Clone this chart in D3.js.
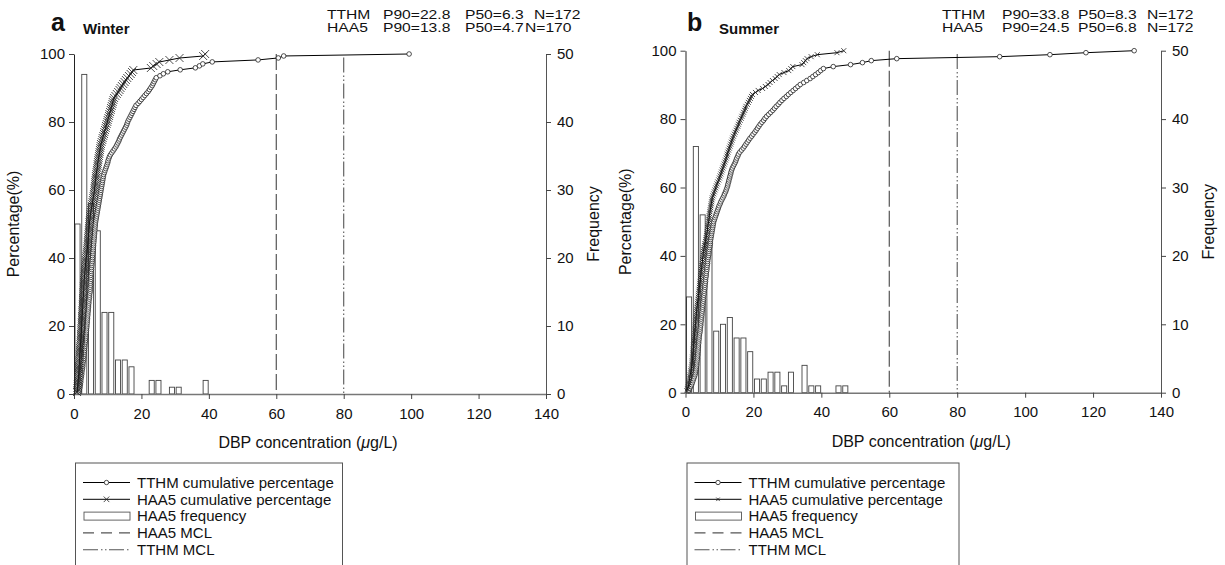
<!DOCTYPE html>
<html>
<head>
<meta charset="utf-8">
<script src="https://cdn.jsdelivr.net/npm/d3@7"></script>
<style>
body { margin: 0; background: #fff; }
text { font-family: "Liberation Sans", Arial, Helvetica, sans-serif; fill: #111; }
</style>
</head>
<body>
<script>
// sorted sample concentrations (ug/L)
var tthmWinter = [1.5,1.6,1.7,1.8,1.9,2.0,2.0,2.1,2.2,2.3,2.3,2.4,2.5,2.6,2.6,2.7,2.8,
  2.9,2.9,3.0,3.0,3.1,3.1,3.2,3.2,3.3,3.4,3.4,3.5,3.5,3.6,3.7,3.7,3.8,
  3.8,3.9,3.9,4.0,4.0,4.1,4.1,4.2,4.2,4.3,4.3,4.4,4.4,4.5,4.6,4.6,4.7,4.8,
  4.8,4.8,4.9,4.9,4.9,5.0,5.0,5.0,5.1,5.1,5.2,5.2,5.3,5.3,5.4,5.4,5.5,
  5.5,5.6,5.6,5.7,5.7,5.8,5.8,5.9,5.9,6.0,6.0,6.1,6.1,6.2,6.2,6.3,6.3,
  6.4,6.5,6.6,6.7,6.8,6.9,7.0,7.1,7.2,7.3,7.4,7.5,7.6,7.7,7.8,7.9,8.0,
  8.1,8.2,8.3,8.4,8.5,8.6,8.7,8.8,9.0,
  9.2,9.4,9.6,9.8,10.0,10.1,10.3,10.5,
  10.8,11.2,11.6,12.0,12.4,12.7,13.0,13.3,13.5,
  13.8,14.1,14.4,14.7,15.0,15.3,15.6,15.8,16.0,
  16.3,16.6,16.9,17.2,17.5,17.8,18.1,18.4,
  19.0,19.5,20.0,20.5,21.0,21.5,22.0,22.4,22.8,
  23.2,23.5,23.8,24.1,24.4,25.5,26.5,27.8,
  31.5,36.0,37.2,38.2,41.0,54.6,60.6,62.2,99.4];

var haa5Winter = [0.9,1.0,1.0,1.1,1.1,1.2,1.2,1.3,1.3,1.4,1.4,1.5,1.5,1.5,1.6,1.6,1.6,1.7,1.7,1.7,1.8,1.8,1.8,1.9,1.9,
  2.0,2.0,2.1,2.1,2.1,2.2,2.2,2.2,2.3,2.3,2.3,2.4,2.4,2.4,2.5,2.5,2.5,2.6,2.6,2.6,2.7,2.7,2.7,2.8,2.8,2.8,
  2.9,2.9,2.9,3.0,3.0,3.0,3.1,3.1,3.2,3.2,3.3,3.3,3.4,3.4,3.5,3.5,3.6,3.7,3.8,3.9,3.9,
  4.0,4.0,4.1,4.1,4.2,4.2,4.3,4.3,4.4,4.4,4.5,4.5,4.6,4.6,4.7,4.8,4.8,4.9,5.0,5.1,5.2,5.3,5.4,5.5,5.6,5.7,5.8,5.9,
  6.0,6.1,6.1,6.2,6.3,6.3,6.4,6.5,6.5,6.6,6.7,6.8,6.9,7.0,7.0,7.1,7.2,7.3,7.4,7.5,7.6,7.7,7.8,7.9,
  8.0,8.2,8.4,8.5,8.7,8.9,9.0,9.2,9.4,9.5,9.7,9.9,
  10.0,10.2,10.4,10.5,10.7,10.9,11.0,11.2,11.4,11.5,11.7,11.9,
  12.3,12.7,13.1,13.5,13.8,14.2,14.6,15.0,15.4,15.8,16.3,16.8,17.2,17.6,
  22.8,23.5,24.5,25.3,28.3,31.3,38.3,38.9];

var tthmSummer = [0.9,1.2,1.5,1.8,2.0,2.2,2.4,2.6,2.8,
  2.9,3.0,3.1,3.2,3.3,3.3,3.4,3.5,
  3.5,3.6,3.6,3.7,3.7,3.8,3.8,3.9,3.9,4.0,4.0,4.1,4.2,4.3,4.3,4.4,4.5,
  4.5,4.6,4.6,4.7,4.8,4.8,4.9,5.0,5.0,5.1,5.1,5.2,5.3,5.3,5.4,5.5,5.5,5.6,
  5.7,5.7,5.8,5.9,5.9,6.0,6.1,6.1,6.2,6.3,6.3,6.4,6.5,6.5,6.6,6.7,6.8,
  6.9,6.9,7.0,7.1,7.2,7.3,7.3,7.4,7.5,7.6,7.7,7.8,7.9,8.0,8.1,8.2,8.3,
  8.5,8.7,8.9,9.1,9.3,9.5,9.7,9.9,10.2,
  10.4,10.7,11.0,11.3,11.5,11.8,12.0,12.2,
  12.4,12.5,12.7,12.8,13.0,13.1,13.3,13.4,13.6,
  13.8,14.1,14.4,14.7,14.9,15.1,15.4,15.6,
  16.0,16.5,17.0,17.4,17.8,18.2,18.6,19.0,19.5,
  19.9,20.4,20.8,21.2,21.6,22.0,22.5,23.0,23.4,
  23.9,24.5,25.1,25.7,26.2,26.7,27.3,27.8,
  28.4,29.0,29.7,30.3,31.0,31.7,32.4,33.1,33.8,
  34.8,35.7,36.7,37.5,38.3,39.1,39.8,40.6,
  43.5,48.6,52.1,54.7,62.2,92.5,107.3,117.9,132.1];

var haa5Summer = [0.4,0.6,0.8,0.9,1.0,1.1,1.2,1.3,1.4,1.5,1.6,1.7,1.8,1.9,
  2.0,2.0,2.1,2.1,2.2,2.2,2.3,2.3,2.4,2.4,2.5,2.5,2.6,2.6,2.7,2.7,2.8,2.8,2.9,2.9,3.0,3.0,
  3.1,3.1,3.2,3.2,3.3,3.3,3.4,3.5,3.5,3.6,3.7,3.8,3.8,3.9,
  4.0,4.0,4.1,4.2,4.2,4.3,4.4,4.4,4.5,4.6,4.6,4.7,4.8,4.8,4.9,5.0,5.0,5.1,5.2,5.2,5.3,5.4,5.5,5.6,5.7,5.9,
  6.0,6.1,6.2,6.3,6.4,6.5,6.5,6.6,6.7,6.8,6.9,7.0,7.0,7.1,7.2,7.3,7.4,7.5,7.6,7.7,7.8,7.9,
  8.1,8.3,8.5,8.7,8.9,9.1,9.3,9.5,9.8,
  10.0,10.2,10.4,10.6,10.8,11.0,11.2,11.4,11.6,11.8,
  12.0,12.2,12.3,12.5,12.7,12.9,13.1,13.3,13.5,13.7,13.9,
  14.1,14.4,14.6,14.9,15.1,15.4,15.6,15.8,
  16.1,16.4,16.6,16.9,17.1,17.4,17.6,17.8,
  18.2,18.5,18.8,19.1,19.4,19.7,20.6,21.4,22.7,23.5,
  24.3,24.9,25.6,26.4,27.0,27.6,29.0,30.4,31.0,31.6,
  34.3,34.8,35.3,35.8,37.0,38.8,44.6,46.6];

// HAA5 histogram, 2 ug/L bins
var binStart = [0,2,4,6,8,10,12,14,16,18,20,22,24,26,28,30,32,34,36,38,40,42,44,46];
var haa5FreqWinter = [25,47,28,24,12,12,5,5,4,0,0,2,2,0,1,1,0,0,0,2,0,0,0,0];
var haa5FreqSummer = [14,36,26,22,9,10,11,8,8,6,2,2,3,3,1,3,0,4,1,1,0,0,1,1];

var concTicks = [0,20,40,60,80,100,120,140];
var pctTicks = [0,20,40,60,80,100];
var freqTicks = [0,10,20,30,40,50];
var haa5Mcl = 60, tthmMcl = 80;

var headerWinter = [["TTHM","P90=22.8","P50=6.3","N=172"],["HAA5","P90=13.8","P50=4.7","N=170"]];
var headerSummer = [["TTHM","P90=33.8","P50=8.3","N=172"],["HAA5","P90=24.5","P50=6.8","N=172"]];
var legendLabels = ["TTHM cumulative percentage","HAA5 cumulative percentage","HAA5 frequency","HAA5 MCL","TTHM MCL"];

var svg = d3.select("body").append("svg")
  .attr("width", 1225)
  .attr("height", 565);

function cumulative(vals) {
  return vals.map(function(v, i) { return {c: v, p: (i + 1) / vals.length * 100}; });
}

function xMark(s) {
  return "M" + (-s) + "," + (-s) + "L" + s + "," + s + "M" + (-s) + "," + s + "L" + s + "," + (-s);
}

var mclDash = "16,4";
var tthmDash = "15,3,1.5,2.5,1.5,2.5";

function drawPanel(p) {
  var g = svg.append("g");
  var x = d3.scaleLinear().domain([0, 140]).range([p.left, p.right]);
  var yP = d3.scaleLinear().domain([0, 100]).range([p.bottom, p.top]);
  var yF = d3.scaleLinear().domain([0, 50]).range([p.bottom, p.top]);

  // histogram bars
  var bins = binStart.map(function(b, i) { return {lo: b, n: p.freq[i]}; })
    .filter(function(d) { return d.n > 0; });
  g.selectAll(".bar").data(bins).enter().append("rect")
    .attr("class", "bar")
    .attr("x", function(d) { return x(d.lo + 0.3); })
    .attr("width", x(1.5) - x(0))
    .attr("y", function(d) { return yF(d.n); })
    .attr("height", function(d) { return yF(0) - yF(d.n); })
    .attr("fill", "#fff")
    .attr("stroke", "#444")
    .attr("stroke-width", 0.9);

  // MCL lines
  g.append("line")
    .attr("x1", x(haa5Mcl)).attr("x2", x(haa5Mcl))
    .attr("y1", yP(100)).attr("y2", yP(0))
    .attr("stroke", "#555").attr("stroke-width", 1.2)
    .attr("stroke-dasharray", mclDash);
  g.append("line")
    .attr("x1", x(tthmMcl)).attr("x2", x(tthmMcl))
    .attr("y1", yP(99)).attr("y2", yP(0))
    .attr("stroke", "#555").attr("stroke-width", 1.1)
    .attr("stroke-dasharray", tthmDash);

  // axes
  var ax = g.append("g").attr("transform", "translate(0," + p.bottom + ")")
    .call(d3.axisBottom(x).tickValues(concTicks).tickSize(5).tickSizeOuter(0).tickPadding(9));
  ax.select(".domain").attr("stroke", "#777").attr("stroke-width", 1.6);
  var ay = g.append("g").attr("transform", "translate(" + p.left + ",0)")
    .call(d3.axisLeft(yP).tickValues(pctTicks).tickSize(5).tickSizeOuter(0).tickPadding(4));
  ay.select(".domain").attr("stroke", "#222");
  var ar = g.append("g").attr("transform", "translate(" + p.right + ",0)")
    .call(d3.axisRight(yF).tickValues(freqTicks).tickSize(5).tickSizeOuter(0).tickPadding(6));
  ar.select(".domain").attr("stroke", "#555");
  g.selectAll(".tick text").attr("font-size", 15).style("font-family", "Liberation Sans, Arial, sans-serif");
  g.selectAll(".tick line").attr("stroke", "#444");

  // cumulative curves
  var line = d3.line().x(function(d) { return x(d.c); }).y(function(d) { return yP(d.p); });
  var t = cumulative(p.tthm);
  var h = cumulative(p.haa5);
  g.append("path").datum(t).attr("d", line).attr("fill", "none").attr("stroke", "#000").attr("stroke-width", 1);
  g.selectAll(".tc").data(t).enter().append("circle")
    .attr("cx", function(d) { return x(d.c); })
    .attr("cy", function(d) { return yP(d.p); })
    .attr("r", 2.3)
    .attr("fill", "#fff").attr("stroke", "#222").attr("stroke-width", 0.8);
  g.append("path").datum(h).attr("d", line).attr("fill", "none").attr("stroke", "#000").attr("stroke-width", 1);
  g.selectAll(".hx").data(h).enter().append("path")
    .attr("transform", function(d) { return "translate(" + x(d.c) + "," + yP(d.p) + ")"; })
    .attr("d", xMark(p.xSize))
    .attr("stroke", "#222").attr("stroke-width", 0.8).attr("fill", "none");

  // titles
  g.append("text").attr("x", p.letterX).attr("y", 31)
    .attr("font-size", 25).attr("font-weight", "bold").text(p.letter);
  g.append("text").attr("x", p.seasonX).attr("y", 34)
    .attr("font-size", 15).attr("font-weight", "bold").text(p.season);
  // header stats: compact lines, glyphs stretched wide like the source
  p.header.forEach(function(row, r) {
    row.forEach(function(s, c) {
      var tx = g.append("text").attr("x", p.headX[r][c]).attr("y", 19 + r * 13)
        .attr("font-size", 12.5).text(s);
      var w = tx.node().getComputedTextLength();
      tx.attr("textLength", w * 1.25).attr("lengthAdjust", "spacingAndGlyphs");
    });
  });

  g.append("text")
    .attr("transform", "translate(" + (p.left - 55) + "," + ((p.top + p.bottom) / 2) + ") rotate(-90)")
    .attr("text-anchor", "middle").attr("font-size", 16).text("Percentage(%)");
  g.append("text")
    .attr("transform", "translate(" + (p.right + 53) + "," + ((p.top + p.bottom) / 2) + ") rotate(-90)")
    .attr("text-anchor", "middle").attr("font-size", 16).text("Frequency");
  var xt = g.append("text").attr("x", (p.left + p.right) / 2 - 2).attr("y", p.bottom + 54)
    .attr("text-anchor", "middle").attr("font-size", 16);
  xt.append("tspan").text("DBP concentration (");
  xt.append("tspan").attr("font-style", "italic").text("\u03bc");
  xt.append("tspan").text("g/L)");

  // legend
  var lx = p.left + 1.5, ly = 463;
  g.append("rect").attr("x", lx).attr("y", ly).attr("width", p.legendW).attr("height", 130)
    .attr("fill", "none").attr("stroke", "#555").attr("stroke-width", 1);
  var sx0 = p.left + 9, sx1 = p.left + 56, sm = (sx0 + sx1) / 2;
  legendLabels.forEach(function(lab, i) {
    var yy = 482.5 + i * 16.8;
    g.append("text").attr("x", p.left + 63).attr("y", yy + 5.3).attr("font-size", 15).text(lab);
    if (i < 2) {
      g.append("line").attr("x1", sx0).attr("x2", sx1).attr("y1", yy).attr("y2", yy)
        .attr("stroke", "#000").attr("stroke-width", 1);
    }
    if (i === 0) {
      g.append("circle").attr("cx", sm).attr("cy", yy).attr("r", 2.2)
        .attr("fill", "#fff").attr("stroke", "#222").attr("stroke-width", 0.8);
    } else if (i === 1) {
      g.append("path").attr("transform", "translate(" + sm + "," + yy + ")")
        .attr("d", xMark(p.xSize * 0.7)).attr("stroke", "#222").attr("stroke-width", 0.8);
    } else if (i === 2) {
      g.append("rect").attr("x", sx0 + 1).attr("y", yy - 4).attr("width", sx1 - sx0 - 1).attr("height", 8)
        .attr("fill", "#fff").attr("stroke", "#555").attr("stroke-width", 0.9);
    } else if (i === 3) {
      g.append("line").attr("x1", sx0).attr("x2", sx1).attr("y1", yy).attr("y2", yy)
        .attr("stroke", "#555").attr("stroke-width", 1.1).attr("stroke-dasharray", "11,7");
    } else {
      g.append("line").attr("x1", sx0).attr("x2", sx1).attr("y1", yy).attr("y2", yy)
        .attr("stroke", "#555").attr("stroke-width", 1.1).attr("stroke-dasharray", tthmDash);
    }
  });
}

drawPanel({
  left: 74, right: 546, top: 54, bottom: 394,
  tthm: tthmWinter, haa5: haa5Winter, freq: haa5FreqWinter,
  xSize: 4, letter: "a", season: "Winter", letterX: 51, seasonX: 83,
  header: headerWinter,
  headX: [[327, 383, 465, 534], [327, 383, 465, 525]],
  legendW: 267
});

drawPanel({
  left: 685.5, right: 1161, top: 50.7, bottom: 392.7,
  tthm: tthmSummer, haa5: haa5Summer, freq: haa5FreqSummer,
  xSize: 2.5, letter: "b", season: "Summer", letterX: 687, seasonX: 719,
  header: headerSummer,
  headX: [[942, 1002, 1078, 1147], [942, 1002, 1078, 1147]],
  legendW: 272
});
</script>
</body>
</html>
